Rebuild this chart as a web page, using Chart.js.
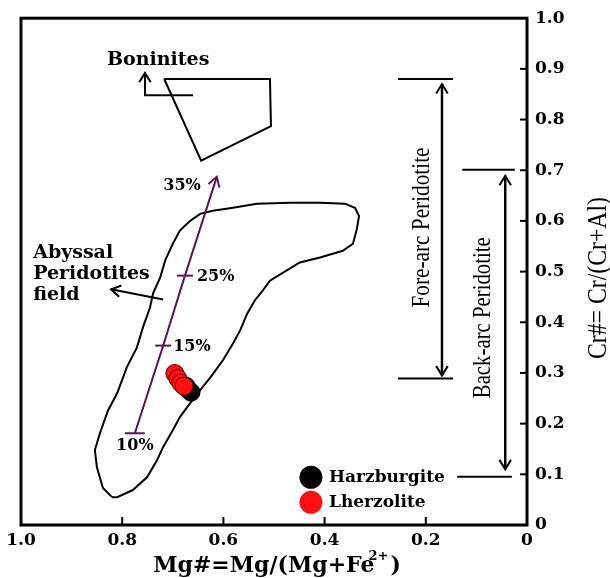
<!DOCTYPE html>
<html>
<head>
<meta charset="utf-8">
<script src="https://cdn.jsdelivr.net/npm/chart.js@4.4.1/dist/chart.umd.min.js"></script>
<style>
	html, body { margin: 0; padding: 0; background: #fff; }
	#wrap { width: 610px; height: 578px; }
</style>
</head>
<body>
<div id="wrap"><canvas id="chart"></canvas></div>
<script>
'use strict';

// axes
var xTicks = [0, 0.2, 0.4, 0.6, 0.8, 1.0];
var xTickLabels = ['0', '0.2', '0.4', '0.6', '0.8', '1.0'];
var yTicks = [0, 0.1, 0.2, 0.3, 0.4, 0.5, 0.6, 0.7, 0.8, 0.9, 1.0];
var yTickLabels = ['0', '0.1', '0.2', '0.3', '0.4', '0.5', '0.6', '0.7', '0.8', '0.9', '1.0'];

// Abyssal peridotites field outline (Mg#, Cr#)
var fieldMg = [0.820, 0.838, 0.850, 0.854, 0.844, 0.828, 0.810, 0.791, 0.771, 0.759, 0.745, 0.739,
	0.725, 0.715, 0.700, 0.686, 0.666, 0.646, 0.621, 0.581, 0.534, 0.468, 0.409, 0.360, 0.340,
	0.332, 0.336, 0.344, 0.364, 0.409, 0.449, 0.482, 0.508, 0.522, 0.538, 0.553, 0.567, 0.581,
	0.601, 0.626, 0.646, 0.666, 0.686, 0.700, 0.719, 0.731, 0.751, 0.779, 0.810, 0.820];
var fieldCr = [0.055, 0.073, 0.114, 0.148, 0.181, 0.226, 0.260, 0.311, 0.350, 0.390, 0.429, 0.457,
	0.488, 0.522, 0.555, 0.581, 0.600, 0.614, 0.620, 0.626, 0.634, 0.636, 0.636, 0.634, 0.626,
	0.610, 0.585, 0.555, 0.541, 0.528, 0.518, 0.498, 0.482, 0.463, 0.443, 0.417, 0.384, 0.358,
	0.325, 0.291, 0.266, 0.240, 0.213, 0.187, 0.154, 0.128, 0.094, 0.069, 0.055, 0.055];

// Boninites field
var boniniteMg = [0.717, 0.508, 0.506, 0.644, 0.717];
var boniniteCr = [0.880, 0.880, 0.787, 0.719, 0.880];

// melting trend
var meltMg = [0.775, 0.719, 0.676, 0.613];
var meltCr = [0.181, 0.354, 0.492, 0.687];
var meltLabels = ['10%', '15%', '25%', '35%'];

// samples
var harzMg = [0.674, 0.670, 0.664];
var harzCr = [0.274, 0.268, 0.262];
var lherzMg = [0.696, 0.690, 0.684, 0.678];
var lherzCr = [0.299, 0.289, 0.280, 0.274];

// Cr# ranges of the tectonic settings
var foreArcCr = [0.289, 0.880];
var backArcCr = [0.095, 0.701];

var BOLD = '"DejaVu Serif", serif';
var PLAIN = '"Liberation Serif", "Times New Roman", serif';
var PURPLE = '#5a1650';

function pts(xs, ys) {
	return xs.map(function(x, i) { return {x: x, y: ys[i]}; });
}

function lineSet(data, color, width, arrows) {
	return {
		data: data,
		showLine: true,
		borderColor: color,
		borderWidth: width,
		pointRadius: 0,
		pointHoverRadius: 0,
		fill: false,
		tension: 0,
		arrows: arrows || null
	};
}

function drawArrowHead(ctx, from, to, size, color) {
	var a = Math.atan2(to.y - from.y, to.x - from.x);
	ctx.save();
	ctx.strokeStyle = color;
	ctx.lineWidth = 2;
	ctx.beginPath();
	ctx.moveTo(to.x - size * Math.cos(a - 0.55), to.y - size * Math.sin(a - 0.55));
	ctx.lineTo(to.x, to.y);
	ctx.lineTo(to.x - size * Math.cos(a + 0.55), to.y - size * Math.sin(a + 0.55));
	ctx.stroke();
	ctx.restore();
}

function drawText(ctx, text, x, y, font, align, rotate, fitWidth) {
	ctx.save();
	ctx.font = font;
	ctx.fillStyle = '#000';
	ctx.textAlign = align || 'left';
	ctx.textBaseline = 'middle';
	ctx.translate(x, y);
	if (rotate) ctx.rotate(rotate);
	if (fitWidth) {
		var w = ctx.measureText(text).width;
		ctx.scale(fitWidth / w, 1);
	}
	ctx.fillText(text, 0, 0);
	ctx.restore();
}

// text annotations in data coordinates
var notes = [
	{text: 'Boninites', mg: 0.830, cr: 0.917, font: 'bold 19px ' + BOLD},
	{text: 'Abyssal', mg: 0.976, cr: 0.537, font: 'bold 19px ' + BOLD},
	{text: 'Peridotites', mg: 0.976, cr: 0.495, font: 'bold 19px ' + BOLD},
	{text: 'field', mg: 0.976, cr: 0.454, font: 'bold 19px ' + BOLD},
	{text: 'Fore-arc Peridotite', mg: 0.208, cr: 0.587, font: '26px ' + PLAIN, align: 'center', rotate: -Math.PI / 2, fit: 160},
	{text: 'Back-arc Peridotite', mg: 0.087, cr: 0.409, font: '26px ' + PLAIN, align: 'center', rotate: -Math.PI / 2, fit: 161}
];

// offsets of the melting labels from their points, in pixels
var meltOffsets = [[0, 13, 'center'], [10, 1, 'left'], [12, 1, 'left'], [-16, 9, 'right']];

var annotate = {
	id: 'annotate',
	afterDatasetsDraw: function(chart) {
		var ctx = chart.ctx;
		var xs = chart.scales.x;
		var ys = chart.scales.y;

		// arrow heads
		chart.data.datasets.forEach(function(ds, i) {
			if (!ds.arrows) return;
			var p = chart.getDatasetMeta(i).data;
			var n = p.length;
			drawArrowHead(ctx, p[n - 2], p[n - 1], 11, ds.borderColor);
			if (ds.arrows === 'both') drawArrowHead(ctx, p[1], p[0], 11, ds.borderColor);
		});

		// melting ticks and labels
		var mp = chart.getDatasetMeta(chart.data.datasets.findIndex(function(d) { return d.melt; })).data;
		ctx.save();
		ctx.strokeStyle = PURPLE;
		ctx.lineWidth = 2;
		for (var i = 0; i < mp.length - 1; i++) {
			var hw = i === 0 ? 10 : 8;
			ctx.beginPath();
			ctx.moveTo(mp[i].x - hw, mp[i].y);
			ctx.lineTo(mp[i].x + hw, mp[i].y);
			ctx.stroke();
		}
		ctx.restore();
		meltLabels.forEach(function(t, i) {
			var o = meltOffsets[i];
			drawText(ctx, t, mp[i].x + o[0], mp[i].y + o[1], 'bold 16px ' + BOLD, o[2]);
		});

		notes.forEach(function(n) {
			drawText(ctx, n.text, xs.getPixelForValue(n.mg), ys.getPixelForValue(n.cr), n.font, n.align, n.rotate, n.fit);
		});

		// legend
		var legendSets = chart.data.datasets.filter(function(d) { return d.label; }).reverse();
		legendSets.forEach(function(d, i) {
			var lx = xs.getPixelForValue(0.427);
			var ly = ys.getPixelForValue(0.094) + i * 25;
			ctx.save();
			ctx.fillStyle = d.backgroundColor;
			ctx.beginPath();
			ctx.arc(lx, ly, 11.5, 0, Math.PI * 2);
			ctx.fill();
			ctx.restore();
			drawText(ctx, d.label, lx + 18, ly, 'bold 17px ' + BOLD, 'left');
		});
	},
	afterDraw: function(chart) {
		var ctx = chart.ctx;
		var a = chart.chartArea;
		var xs = chart.scales.x;
		var ys = chart.scales.y;

		ctx.save();
		ctx.strokeStyle = '#000';
		ctx.lineWidth = 3;
		ctx.strokeRect(a.left, a.top, a.right - a.left, a.bottom - a.top);
		ctx.lineWidth = 2;
		xTicks.forEach(function(v) {
			if (v === 0 || v === 1) return;
			var x = xs.getPixelForValue(v);
			ctx.beginPath();
			ctx.moveTo(x, a.bottom);
			ctx.lineTo(x, a.bottom - 8);
			ctx.stroke();
		});
		yTicks.forEach(function(v) {
			if (v === 0 || v === 1) return;
			var y = ys.getPixelForValue(v);
			ctx.beginPath();
			ctx.moveTo(a.right, y);
			ctx.lineTo(a.right - 7, y);
			ctx.stroke();
		});
		ctx.restore();

		// x title with superscript
		ctx.save();
		ctx.fillStyle = '#000';
		ctx.textBaseline = 'alphabetic';
		var f1 = 'bold 22px ' + BOLD;
		var f2 = 'bold 13px ' + BOLD;
		ctx.font = f1;
		var w1 = ctx.measureText('Mg#=Mg/(Mg+Fe').width;
		var w3 = ctx.measureText(')').width;
		ctx.font = f2;
		var w2 = ctx.measureText('2+').width;
		var total = w1 + w2 + w3 - 4;
		var x0 = 277 - total / 2;
		var base = 572;
		ctx.font = f1;
		ctx.fillText('Mg#=Mg/(Mg+Fe', x0, base);
		ctx.font = f2;
		ctx.fillText('2+', x0 + w1 - 6, base - 12);
		ctx.font = f1;
		ctx.fillText(')', x0 + w1 + w2 - 4, base);
		ctx.restore();

		// y title
		drawText(ctx, 'Cr#= Cr/(Cr+Al)', 599, 278, '27px ' + PLAIN, 'center', -Math.PI / 2, 162);
	}
};

var melt = lineSet(pts(meltMg, meltCr), PURPLE, 2, 'end');
melt.melt = true;

var datasets = [
	{
		label: 'Lherzolite',
		data: pts(lherzMg, lherzCr),
		backgroundColor: '#ff1010',
		borderColor: '#6a0000',
		borderWidth: 1,
		pointRadius: 9,
		pointHoverRadius: 9
	},
	{
		label: 'Harzburgite',
		data: pts(harzMg, harzCr),
		backgroundColor: '#000000',
		borderColor: '#000000',
		borderWidth: 1,
		pointRadius: 9,
		pointHoverRadius: 9
	},
	melt,
	lineSet(pts(fieldMg, fieldCr), '#000', 2),
	lineSet(pts(boniniteMg, boniniteCr), '#000', 2),
	// pointer from "Boninites" to its field
	lineSet(pts([0.660, 0.755, 0.755], [0.848, 0.848, 0.892]), '#000', 2, 'end'),
	// pointer from "Abyssal Peridotites field"
	lineSet(pts([0.719, 0.822], [0.445, 0.465]), '#000', 2, 'end'),
	// fore-arc range
	lineSet(pts([0.255, 0.146], [foreArcCr[1], foreArcCr[1]]), '#000', 2),
	lineSet(pts([0.255, 0.146], [foreArcCr[0], foreArcCr[0]]), '#000', 2),
	lineSet(pts([0.168, 0.168], [foreArcCr[1] - 0.010, foreArcCr[0] + 0.006]), '#000', 2.5, 'both'),
	// back-arc range
	lineSet(pts([0.128, 0.024], [backArcCr[1], backArcCr[1]]), '#000', 2),
	lineSet(pts([0.138, 0.030], [backArcCr[0], backArcCr[0]]), '#000', 2),
	lineSet(pts([0.043, 0.043], [backArcCr[1] - 0.012, backArcCr[0] + 0.015]), '#000', 2.5, 'both')
];

Chart.defaults.font.family = BOLD;
Chart.defaults.color = '#000';

new Chart(document.getElementById('chart'), {
	type: 'scatter',
	data: {datasets: datasets},
	options: {
		responsive: true,
		maintainAspectRatio: false,
		animation: false,
		devicePixelRatio: 1,
		layout: {padding: {left: 21, top: 17, right: 0, bottom: 0}},
		plugins: {
			legend: {display: false},
			tooltip: {enabled: false}
		},
		scales: {
			x: {
				type: 'linear',
				min: 0,
				max: 1,
				reverse: true,
				grid: {display: false, drawTicks: false},
				border: {display: false},
				afterBuildTicks: function(scale) {
					scale.ticks = xTicks.map(function(v) { return {value: v}; });
				},
				afterFit: function(scale) { scale.height = 53; },
				ticks: {
					autoSkip: false,
					maxRotation: 0,
					padding: 5,
					font: {size: 17, weight: 'bold', family: BOLD},
					callback: function(v) { return xTickLabels[xTicks.indexOf(v)]; }
				}
			},
			y: {
				type: 'linear',
				position: 'right',
				min: 0,
				max: 1,
				grid: {display: false, drawTicks: false},
				border: {display: false},
				afterBuildTicks: function(scale) {
					scale.ticks = yTicks.map(function(v) { return {value: v}; });
				},
				afterFit: function(scale) { scale.width = 83; },
				ticks: {
					autoSkip: false,
					padding: 8,
					font: {size: 17, weight: 'bold', family: BOLD},
					callback: function(v) { return yTickLabels[yTicks.indexOf(v)]; }
				}
			}
		}
	},
	plugins: [annotate]
});
</script>
</body>
</html>
